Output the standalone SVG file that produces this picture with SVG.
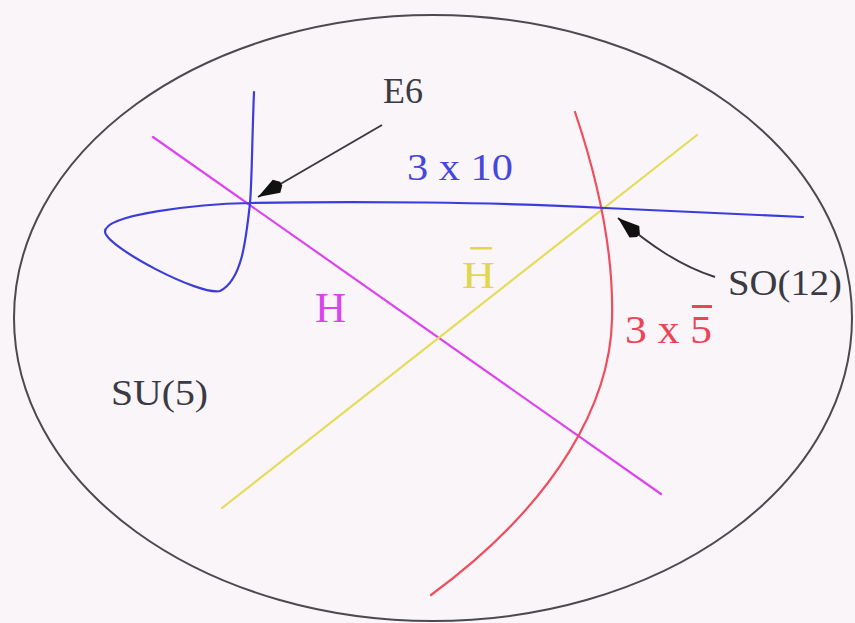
<svg xmlns="http://www.w3.org/2000/svg" width="855" height="623" viewBox="0 0 855 623">
<style>
.lbl{font-family:"Liberation Serif","DejaVu Serif",serif;}
.dark{fill:#3a3a44;}
.curve{fill:none;stroke-width:2.2;stroke-linecap:round;}
.ptr{fill:none;stroke:#3a3a40;stroke-width:2;}
</style>
<defs>
<marker id="ah" markerUnits="userSpaceOnUse" markerWidth="30" markerHeight="20" viewBox="-26 -8 28 16" refX="0" refY="0" orient="auto">
<path d="M0,0 L-20,-7 L-25,-2 L-25,2 L-20,7 Z" fill="#111"/>
</marker>
</defs>
<rect x="0" y="0" width="855" height="623" fill="#f9f5f8"/>
<g id="boundary">
<ellipse cx="433" cy="318" rx="419" ry="303" fill="none" stroke="#4a4a50" stroke-width="2"/>
</g>
<g id="connectors">
<path class="curve" d="M153,137 L661,494" stroke="#dc44ee"/>
<path class="curve" d="M222,508 L697,135" stroke="#e6dc5a"/>
<path class="curve" d="M575,112 C598,180 614,250 612,320 C610,400 560,500 431,595" stroke="#ee4e5e"/>
<path class="curve" d="M254,92 C252,140 252,180 250,203 C246,240 242,280 220,291 C200,296 108,248 105,232 C104,214 200,204 250,203 C350,201 500,202 605,208 L803,217" stroke="#3c3cdc"/>
<path class="ptr" d="M382,125 L258,197" marker-end="url(#ah)"/>
<path class="ptr" d="M715,277 C680,266 650,245 618,218" marker-end="url(#ah)"/>
</g>
<g id="E6">
<text class="lbl dark" x="383" y="103" font-size="36">E6</text>
</g>
<g id="n3x10">
<text class="lbl" x="407" y="180" font-size="38" fill="#4646dc" textLength="106" lengthAdjust="spacingAndGlyphs">3 x 10</text>
</g>
<g id="H">
<text class="lbl" x="315" y="322" font-size="43" fill="#d846ea">H</text>
</g>
<g id="Hbar">
<text class="lbl" x="462" y="288" font-size="38" fill="#e2d650" textLength="33" lengthAdjust="spacingAndGlyphs">H</text>
<rect x="470" y="247" width="22" height="2.5" fill="#e2d650"/>
</g>
<g id="n3x5bar">
<text class="lbl" x="625" y="343" font-size="40" fill="#ec4456" textLength="87" lengthAdjust="spacingAndGlyphs">3 x 5</text>
<rect x="692" y="305" width="20" height="3" fill="#ec4456"/>
</g>
<g id="SO12">
<text class="lbl dark" x="728" y="295" font-size="35" textLength="114" lengthAdjust="spacingAndGlyphs">SO(12)</text>
</g>
<g id="SU5">
<text class="lbl dark" x="111" y="405" font-size="36" textLength="97" lengthAdjust="spacingAndGlyphs">SU(5)</text>
</g>
</svg>
